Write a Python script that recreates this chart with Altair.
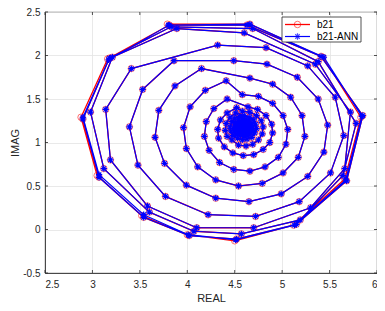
import altair as alt
import pandas as pd

# ---- data (b21 = red circles, b21-ANN = blue asterisks) ----
b21_x = [
    3.79, 4.66, 5.43, 5.83, 5.66, 5.12, 4.50, 4.00, 3.52, 3.05, 2.88, 3.16,
    3.81, 4.63, 5.41, 5.85, 5.68, 5.15, 4.52, 4.02, 3.54, 3.07, 2.90, 3.18,
    3.83, 4.69, 5.38, 5.78, 5.64, 5.19, 4.57, 4.07, 3.60, 3.12, 2.98, 3.21,
    3.89, 4.60, 5.35, 5.72, 5.66, 5.30, 4.70, 4.10, 3.58, 3.19, 3.14, 3.41,
    4.32, 4.83, 5.27, 5.56, 5.65, 5.51, 5.18, 4.72, 4.22, 3.77, 3.48, 3.39, 3.53, 3.86,
    4.49, 4.84, 5.16, 5.38, 5.48, 5.44, 5.27, 4.99, 4.65, 4.30, 3.99, 3.76, 3.66, 3.70, 3.87, 4.15,
    4.66, 4.90, 5.09, 5.21, 5.24, 5.17, 5.01, 4.79, 4.54, 4.30, 4.11, 3.99, 3.96, 4.03, 4.19, 4.41,
    4.58, 4.75, 4.90, 5.01, 5.06, 5.04, 4.96, 4.82, 4.66, 4.49, 4.34, 4.23, 4.18, 4.20, 4.28, 4.42,
    4.64, 4.74, 4.83, 4.89, 4.90, 4.87, 4.80, 4.70, 4.59, 4.48, 4.39, 4.33, 4.32, 4.35, 4.42, 4.52,
    4.58, 4.66, 4.73, 4.78, 4.80, 4.79, 4.75, 4.69, 4.62, 4.54, 4.47, 4.42, 4.40, 4.41, 4.45, 4.51,
    4.60, 4.66, 4.70, 4.72, 4.73, 4.71, 4.68, 4.63, 4.58, 4.53, 4.48, 4.46, 4.45, 4.47, 4.50, 4.55,
    4.58, 4.62, 4.65, 4.68, 4.69, 4.69, 4.67, 4.64, 4.60, 4.56, 4.53, 4.50, 4.49, 4.50, 4.51, 4.54,
    4.60, 4.62, 4.64, 4.66, 4.66, 4.65, 4.64, 4.61, 4.58, 4.56, 4.54, 4.52, 4.52, 4.53, 4.55, 4.57,
    4.59, 4.62, 4.635, 4.62, 4.59, 4.56, 4.545, 4.56,
    4.59, 4.607, 4.615, 4.607, 4.59, 4.573, 4.565, 4.573,
]
b21_y = [
    2.36, 2.36, 1.98, 1.29, 0.58, 0.05, -0.13, -0.06, 0.16, 0.62, 1.29, 1.96,
    2.35, 2.35, 1.99, 1.31, 0.56, 0.06, -0.11, -0.07, 0.14, 0.60, 1.27, 1.97,
    2.33, 2.31, 1.93, 1.22, 0.62, 0.11, -0.05, -0.02, 0.20, 0.70, 1.35, 1.98,
    2.31, 2.26, 1.90, 1.35, 0.70, 0.25, 0.02, 0.02, 0.27, 0.80, 1.38, 1.85,
    2.12, 2.09, 1.88, 1.52, 1.08, 0.65, 0.32, 0.15, 0.17, 0.38, 0.74, 1.18, 1.61, 1.94,
    1.94, 1.90, 1.75, 1.50, 1.20, 0.89, 0.61, 0.41, 0.32, 0.36, 0.51, 0.76, 1.06, 1.37, 1.65, 1.85,
    1.74, 1.67, 1.52, 1.31, 1.07, 0.83, 0.65, 0.53, 0.50, 0.57, 0.72, 0.93, 1.17, 1.41, 1.60, 1.71,
    1.55, 1.53, 1.45, 1.31, 1.15, 0.98, 0.83, 0.72, 0.67, 0.69, 0.77, 0.91, 1.07, 1.24, 1.39, 1.50,
    1.41, 1.38, 1.31, 1.21, 1.11, 1.00, 0.92, 0.86, 0.85, 0.88, 0.95, 1.05, 1.15, 1.26, 1.34, 1.40,
    1.36, 1.35, 1.31, 1.25, 1.18, 1.10, 1.03, 0.98, 0.96, 0.97, 1.03, 1.07, 1.14, 1.22, 1.29, 1.34,
    1.31, 1.29, 1.26, 1.21, 1.16, 1.11, 1.06, 1.04, 1.03, 1.05, 1.08, 1.13, 1.18, 1.24, 1.28, 1.30,
    1.27, 1.27, 1.25, 1.22, 1.18, 1.14, 1.11, 1.08, 1.07, 1.08, 1.09, 1.12, 1.16, 1.20, 1.23, 1.26,
    1.24, 1.23, 1.22, 1.19, 1.16, 1.14, 1.12, 1.10, 1.10, 1.11, 1.13, 1.15, 1.18, 1.20, 1.22, 1.24,
    1.215, 1.20, 1.17, 1.14, 1.125, 1.14, 1.17, 1.20,
    1.195, 1.187, 1.17, 1.153, 1.145, 1.153, 1.17, 1.187,
]

# ANN estimate: first (outer) turn differs slightly, the rest lies on top of b21
ann_outer_x = [3.80, 4.66, 5.44, 5.84, 5.67, 5.13, 4.51, 4.01, 3.54, 3.07, 2.90, 3.17]
ann_outer_y = [2.35, 2.36, 1.98, 1.30, 0.57, 0.05, -0.12, -0.06, 0.17, 0.63, 1.29, 1.95]
ann_x = ann_outer_x + b21_x[12:]
ann_y = ann_outer_y + b21_y[12:]

x_ticks = [2.5, 3, 3.5, 4, 4.5, 5, 5.5, 6]
y_ticks = [-0.5, 0, 0.5, 1, 1.5, 2, 2.5]

legend_labels = ["b21", "b21-ANN"]

# ---- chart ----
FONT = "Liberation Sans"
AX = "#262626"
W, H = 332, 261

red = pd.DataFrame({"x": b21_x, "y": b21_y, "i": list(range(len(b21_x)))})
blue = pd.DataFrame({"x": ann_x, "y": ann_y, "i": list(range(len(ann_x)))})

xs = alt.Scale(domain=[2.5, 6], nice=False, zero=False)
ys = alt.Scale(domain=[-0.5, 2.5], nice=False, zero=False)

xax = alt.Axis(values=x_ticks, labelExpr="'' + datum.value", title="REAL", grid=True,
               ticks=False, labelPadding=6, titlePadding=3)
yax = alt.Axis(values=y_ticks, labelExpr="'' + datum.value", title="IMAG", grid=True,
               ticks=False, labelPadding=5, titlePadding=2)

enc = dict(
    x=alt.X("x:Q", scale=xs, axis=xax),
    y=alt.Y("y:Q", scale=ys, axis=yax),
    order=alt.Order("i:Q"),
)

red_line = alt.Chart(red).mark_line(color="#ff0000", strokeWidth=1.3).encode(**enc)
red_pts = alt.Chart(red).mark_point(shape="circle", filled=False, color="#ff0000",
                                    size=42, strokeWidth=0.8, opacity=0.7).encode(**enc)

ASTER = "M-1,0L1,0M0,-1L0,1M-0.7,-0.7L0.7,0.7M-0.7,0.7L0.7,-0.7"
blue_line = alt.Chart(blue).mark_line(color="#0000ff", strokeWidth=1.2).encode(**enc)
blue_pts = alt.Chart(blue).mark_point(shape=ASTER, filled=False, color="#0000ff",
                                      size=40, strokeWidth=1.2, opacity=1).encode(**enc)

# inward tick marks on all four sides (MATLAB style)
xt = pd.DataFrame({"v": x_ticks})
yt = pd.DataFrame({"v": y_ticks})
tick_b = alt.Chart(xt).mark_rule(color=AX, strokeWidth=0.8).encode(
    x=alt.X("v:Q", scale=xs), y=alt.value(H), y2=alt.value(H - 3))
tick_t = alt.Chart(xt).mark_rule(color=AX, strokeWidth=0.8).encode(
    x=alt.X("v:Q", scale=xs), y=alt.value(0), y2=alt.value(3))
tick_l = alt.Chart(yt).mark_rule(color=AX, strokeWidth=0.8).encode(
    y=alt.Y("v:Q", scale=ys), x=alt.value(0), x2=alt.value(3))
tick_r = alt.Chart(yt).mark_rule(color=AX, strokeWidth=0.8).encode(
    y=alt.Y("v:Q", scale=ys), x=alt.value(W), x2=alt.value(W - 3))

# ---- legend box (top-right, inside the axes) ----
one = pd.DataFrame({"a": [0]})
LX = 237
box = alt.Chart(one).mark_rect(fill="white", stroke=AX, strokeWidth=0.8).encode(
    x=alt.value(LX), x2=alt.value(LX + 79), y=alt.value(5), y2=alt.value(30))
lr1 = alt.Chart(one).mark_rule(color="#ff0000", strokeWidth=1.3).encode(
    x=alt.value(LX + 3), x2=alt.value(LX + 28), y=alt.value(12.5))
lp1 = alt.Chart(one).mark_point(shape="circle", filled=False, color="#ff0000", size=42,
                                strokeWidth=0.8).encode(x=alt.value(LX + 15.5), y=alt.value(12.5))
lt1 = alt.Chart(one).mark_text(text=legend_labels[0], align="left", baseline="middle",
                               font=FONT, fontSize=10, color="#000000").encode(
    x=alt.value(LX + 35), y=alt.value(12.5))
lr2 = alt.Chart(one).mark_rule(color="#0000ff", strokeWidth=1.2).encode(
    x=alt.value(LX + 3), x2=alt.value(LX + 28), y=alt.value(24.5))
lp2 = alt.Chart(one).mark_point(shape=ASTER, filled=False, color="#0000ff", size=40,
                                strokeWidth=1.2).encode(x=alt.value(LX + 15.5), y=alt.value(24.5))
lt2 = alt.Chart(one).mark_text(text=legend_labels[1], align="left", baseline="middle",
                               font=FONT, fontSize=10, color="#000000").encode(
    x=alt.value(LX + 35), y=alt.value(24.5))

chart = alt.layer(red_line, red_pts, blue_line, blue_pts,
                  tick_b, tick_t, tick_l, tick_r,
                  box, lr1, lp1, lt1, lr2, lp2, lt2).properties(
    width=W, height=H,
    autosize=alt.AutoSizeParams(type="none"),
    padding={"left": 37, "top": 4, "right": 0, "bottom": 30},
    background="white",
).configure_view(
    stroke=AX, strokeWidth=0.8
).configure_axis(
    labelFont=FONT, titleFont=FONT, labelFontSize=10, titleFontSize=11,
    titleFontWeight="normal", labelColor=AX, titleColor=AX,
    domainColor=AX, domainWidth=0.8, gridColor="#e3e3e3", gridWidth=0.8,
)

chart.save("out.html", embed_options={"renderer": "svg", "actions": False})
